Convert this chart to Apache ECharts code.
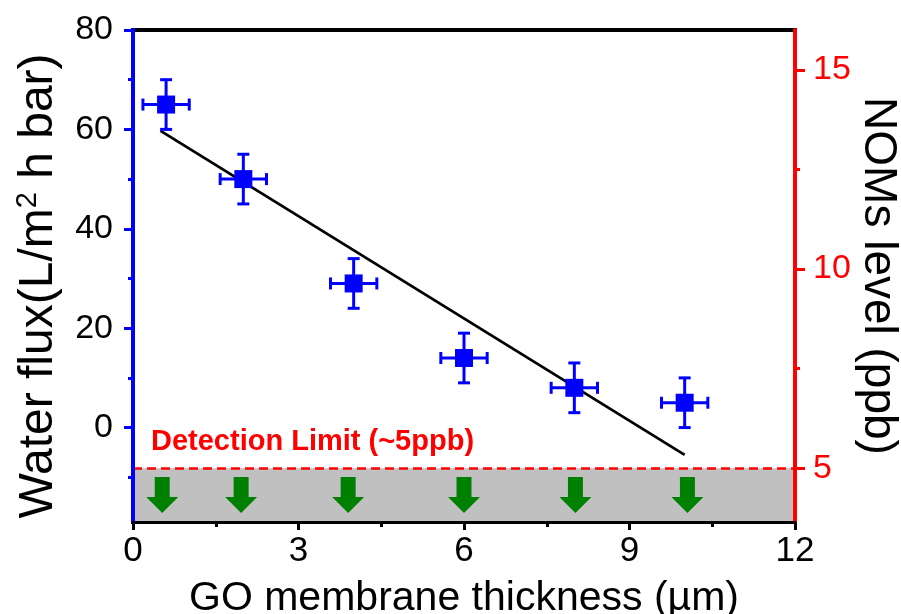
<!DOCTYPE html>
<html>
<head>
<meta charset="utf-8">
<script src="https://cdn.jsdelivr.net/npm/echarts@6/dist/echarts.min.js"></script>
<style>html,body{margin:0;padding:0;background:#fff;}#c{width:901px;height:614px;}</style>
</head>
<body>
<div id="c"></div>
<script>
// ---- data ----
var fluxX = [0.6, 2, 4, 6, 8, 10];
var fluxY = [65, 50, 29, 14, 8, 5];
var fluxXErr = [0.42, 0.42, 0.42, 0.42, 0.42, 0.42];
var fluxYErr = [5, 5, 5, 5, 5, 5];
var fitX = [0.5, 10];
var fitY = [59.7, -5.5];
var arrowX = [0.53, 1.96, 3.9, 6.0, 8.02, 10.05];
var arrowNOM = [4.33, 4.33, 4.33, 4.33, 4.33, 4.33];
var detectionLimit = 5;
var fluxTicks = [0, 20, 40, 60, 80];
var fluxMinor = [-10, 10, 30, 50, 70];
var nomTicks = [5, 10, 15];
var nomMinor = [7.5, 12.5];

var FONT = 'Liberation Sans';
var BLUE = '#0000ff', RED = '#ff0000', GREEN = '#008000';
var xMin = 0, xMax = 12;
var fluxMin = -19, fluxMax = 80, nomMin = 3.65, nomMax = 16;

var chart = echarts.init(document.getElementById('c'), null, {renderer: 'canvas'});

var errData = fluxX.map(function (x, i) { return [x, fluxY[i], fluxXErr[i], fluxYErr[i]]; });

function renderErr(params, api) {
  var x = api.value(0), y = api.value(1), xe = api.value(2), ye = api.value(3);
  var l = api.coord([x - xe, y]), r = api.coord([x + xe, y]);
  var t = api.coord([x, y + ye]), b = api.coord([x, y - ye]);
  var st = {stroke: BLUE, lineWidth: 3};
  var cw = 6;
  return {
    type: 'group',
    children: [
      {type: 'line', shape: {x1: l[0], y1: l[1], x2: r[0], y2: r[1]}, style: st},
      {type: 'line', shape: {x1: t[0], y1: t[1], x2: b[0], y2: b[1]}, style: st},
      {type: 'line', shape: {x1: l[0], y1: l[1] - cw, x2: l[0], y2: l[1] + cw}, style: st},
      {type: 'line', shape: {x1: r[0], y1: r[1] - cw, x2: r[0], y2: r[1] + cw}, style: st},
      {type: 'line', shape: {x1: t[0] - cw, y1: t[1], x2: t[0] + cw, y2: t[1]}, style: st},
      {type: 'line', shape: {x1: b[0] - cw, y1: b[1], x2: b[0] + cw, y2: b[1]}, style: st}
    ]
  };
}

var arrowPath = 'path://M8.5,0 L23.5,0 L23.5,20 L32,20 L16,36 L0,20 L8.5,20 Z';

var option = {
  animation: false,
  backgroundColor: '#fff',
  textStyle: {fontFamily: FONT},
  grid: {left: 133, right: 106, top: 30, bottom: 92, outerBoundsMode: 'none',
    show: true, borderColor: '#000', borderWidth: 4, backgroundColor: 'rgba(0,0,0,0)'},
  xAxis: [{
    type: 'value', min: xMin, max: xMax, interval: 3, position: 'bottom', z: 10,
    axisLine: {show: true, onZero: false, lineStyle: {color: '#000', width: 3}},
    axisTick: {show: true, length: 8, lineStyle: {color: '#000', width: 3}},
    minorTick: {show: true, splitNumber: 2, length: 5, lineStyle: {color: '#000', width: 3}},
    axisLabel: {fontSize: 35, color: '#000', fontFamily: FONT, margin: 12},
    splitLine: {show: false},
    name: 'GO membrane thickness (µm)', nameLocation: 'middle', nameGap: 56, nameMoveOverlap: false,
    nameTextStyle: {fontSize: 41, color: '#000', fontFamily: FONT}
  }],
  yAxis: [{
    type: 'value', min: fluxMin, max: fluxMax, position: 'left', z: 10,
    axisLine: {show: true, onZero: false, lineStyle: {color: BLUE, width: 4}},
    axisTick: {show: true, length: 9, customValues: fluxTicks, lineStyle: {color: BLUE, width: 3}},
    axisLabel: {customValues: fluxTicks, fontSize: 34, color: '#000', fontFamily: FONT, margin: 20},
    splitLine: {show: false},
    name: '{a|Water flux(L/m}{s|2}{a| h bar)}', nameLocation: 'middle', nameGap: 68, nameRotate: 90,
    nameMoveOverlap: false,
    nameTextStyle: {color: '#000', fontFamily: FONT, padding: [0, 20, 0, 0], rich: {
      a: {fontSize: 48, fontFamily: FONT, color: '#000', lineHeight: 52},
      s: {fontSize: 29, fontFamily: FONT, color: '#000', verticalAlign: 'top', lineHeight: 52}
    }}
  }, {
    type: 'value', min: nomMin, max: nomMax, position: 'right', z: 10,
    axisLine: {show: true, onZero: false, lineStyle: {color: RED, width: 4}},
    axisTick: {show: true, length: 10, customValues: nomTicks, lineStyle: {color: RED, width: 3}},
    axisLabel: {customValues: nomTicks, fontSize: 34, color: RED, fontFamily: FONT, margin: 18},
    splitLine: {show: false},
    name: 'NOMs level (ppb)', nameLocation: 'middle', nameGap: 60, nameRotate: -90,
    nameMoveOverlap: false,
    nameTextStyle: {fontSize: 46, color: '#000', fontFamily: FONT}
  }, {
    type: 'value', min: fluxMin, max: fluxMax, position: 'left', z: 10,
    axisLine: {show: false, onZero: false},
    axisTick: {show: true, length: 5, customValues: fluxMinor, lineStyle: {color: BLUE, width: 3}},
    axisLabel: {show: false}, splitLine: {show: false}
  }, {
    type: 'value', min: nomMin, max: nomMax, position: 'right', z: 10,
    axisLine: {show: false, onZero: false},
    axisTick: {show: true, length: 5, customValues: nomMinor, lineStyle: {color: RED, width: 3}},
    axisLabel: {show: false}, splitLine: {show: false}
  }],
  series: [{
    name: 'NOMs', type: 'scatter', xAxisIndex: 0, yAxisIndex: 1, z: 3,
    symbol: arrowPath, symbolSize: [32, 36], itemStyle: {color: GREEN, opacity: 1},
    data: arrowX.map(function (x, i) { return [x, arrowNOM[i]]; }),
    markArea: {
      silent: true, itemStyle: {color: '#c0c0c0', opacity: 1},
      data: [[{coord: [xMin, nomMin]}, {coord: [xMax, detectionLimit]}]]
    },
    markLine: {
      silent: true, symbol: 'none', animation: false,
      lineStyle: {color: RED, width: 2.5, type: [9, 5]},
      label: {show: true, position: 'insideStartTop', formatter: 'Detection Limit (~5ppb)',
        color: RED, fontWeight: 'bold', fontSize: 29, fontFamily: FONT, distance: [18, 12]},
      data: [{yAxis: detectionLimit}]
    }
  }, {
    name: 'fit', type: 'line', xAxisIndex: 0, yAxisIndex: 0, z: 4,
    showSymbol: false, symbol: 'none',
    lineStyle: {color: '#000', width: 2.8},
    data: fitX.map(function (x, i) { return [x, fitY[i]]; })
  }, {
    name: 'err', type: 'custom', xAxisIndex: 0, yAxisIndex: 0, z: 5,
    renderItem: renderErr, data: errData
  }, {
    name: 'flux', type: 'scatter', xAxisIndex: 0, yAxisIndex: 0, z: 6,
    symbol: 'rect', symbolSize: 18, itemStyle: {color: BLUE, opacity: 1},
    data: fluxX.map(function (x, i) { return [x, fluxY[i]]; }),
    markLine: {
      silent: true, symbol: 'none', label: {show: false},
      lineStyle: {color: '#000', width: 4, type: 'solid'},
      data: [{yAxis: fluxMax}]
    }
  }]
};
chart.setOption(option);
</script>
</body>
</html>
